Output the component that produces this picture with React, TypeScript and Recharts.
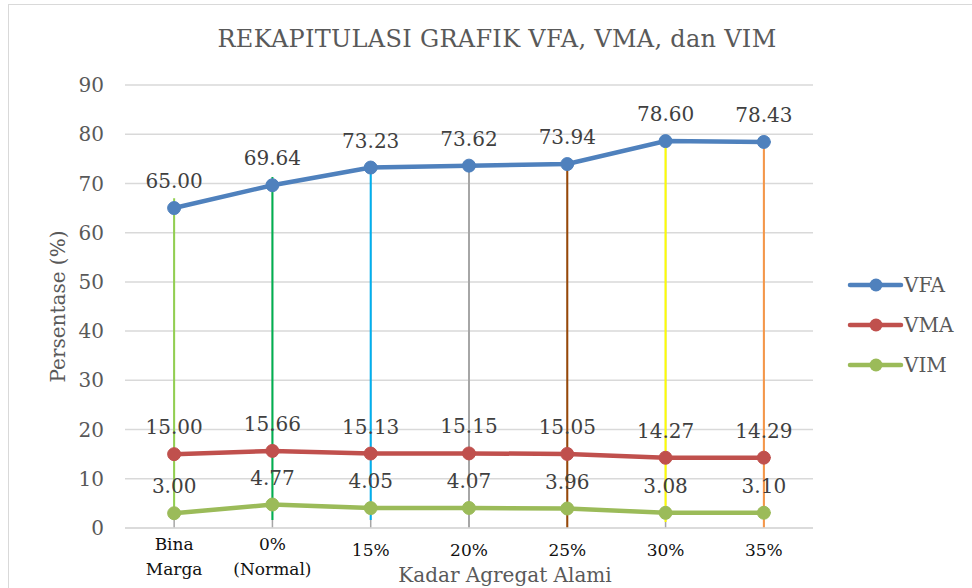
import React from 'react';
import {
  LineChart,
  Line,
  XAxis,
  YAxis,
  CartesianGrid,
  Legend,
  LabelList,
  ReferenceLine,
} from 'recharts';

// ---- data ----
const categories = ['Bina\nMarga', '0%\n(Normal)', '15%', '20%', '25%', '30%', '35%'];
const vfa = [65.0, 69.64, 73.23, 73.62, 73.94, 78.6, 78.43];
const vma = [15.0, 15.66, 15.13, 15.15, 15.05, 14.27, 14.29];
const vim = [3.0, 4.77, 4.05, 4.07, 3.96, 3.08, 3.1];
const yTicks = [0, 10, 20, 30, 40, 50, 60, 70, 80, 90];

// hand-drawn vertical guide lines (value range in %)
const guideTop = [67.0, 71.3, 74.3, 73.7, 75.1, 78.8, 78.8];
const guideBottom = [3.0, 1.6, 1.6, 0, 0, 1.2, 0];
const guideColors = ['#92d050', '#00b050', '#00b0f0', '#a6a6a6', '#984807', '#ffff00', '#f79646'];

const seriesNames = ['VFA', 'VMA', 'VIM'];
const seriesColors = ['#4f81bd', '#c0504d', '#9bbb59'];

const data = categories.map((c, i) => ({ cat: c, VFA: vfa[i], VMA: vma[i], VIM: vim[i] }));

const FONT = '"DejaVu Serif", "Liberation Serif", serif';
const W = 972;
const H = 588;
const LEGEND_W = 120;

const XTick = (props: any) => {
  const { x, y, payload } = props;
  const lines = String(payload.value).split('\n');
  const starts = lines.length === 1 ? [14] : [8, 33];
  return (
    <g>
      {lines.map((l, i) => (
        <text
          key={i}
          x={x}
          y={y + starts[i]}
          textAnchor="middle"
          dominantBaseline="central"
          fontFamily={FONT}
          fontSize={17}
          fill="#111"
        >
          {l}
        </text>
      ))}
    </g>
  );
};

const renderLegend = () => (
  <div style={{ fontFamily: FONT }}>
    {seriesNames.map((n, i) => (
      <div key={n} style={{ display: 'flex', alignItems: 'center', height: 40 }}>
        <svg width={58} height={20}>
          <line x1={4} y1={10} x2={55} y2={10} stroke={seriesColors[i]} strokeWidth={4.5} strokeLinecap="round" />
          <circle cx={30} cy={10} r={6.5} fill={seriesColors[i]} />
        </svg>
        <span style={{ fontSize: 20, color: '#595959', marginLeft: 0 }}>{n}</span>
      </div>
    ))}
  </div>
);

const YLabel = (props: any) => {
  const { viewBox } = props;
  const cx = 58;
  const cy = viewBox.y + viewBox.height / 2;
  return (
    <text
      x={cx}
      y={cy}
      transform={`rotate(-90 ${cx} ${cy})`}
      textAnchor="middle"
      dominantBaseline="central"
      fontFamily={FONT}
      fontSize={20}
      fill="#595959"
    >
      Persentase (%)
    </text>
  );
};

const XLabel = () => (
  <text x={505} y={575} textAnchor="middle" dominantBaseline="central" fontFamily={FONT} fontSize={20} fill="#595959">
    Kadar Agregat Alami
  </text>
);

const fmt = (v: any) => Number(v).toFixed(2);

export default function App() {
  return (
    <div style={{ position: 'fixed', left: 0, top: 0, width: W, height: H, overflow: 'hidden', background: '#fff' }}>
      <div
        style={{
          position: 'absolute',
          left: 8,
          top: 4,
          width: W + 20,
          height: H + 20,
          borderLeft: '1.5px solid #d9d9d9',
          borderTop: '1.5px solid #d9d9d9',
        }}
      />
      <div
        style={{
          position: 'absolute',
          left: 0,
          width: 994,
          top: 25,
          textAlign: 'center',
          fontFamily: FONT,
          fontSize: 24,
          letterSpacing: 0.3,
          color: '#595959',
          whiteSpace: 'nowrap',
        }}
      >
        REKAPITULASI GRAFIK VFA, VMA, dan VIM
      </div>
      <div style={{ position: 'absolute', left: 0, top: 0 }}>
        <LineChart width={W} height={H} data={data} margin={{ top: 85, right: 159 - LEGEND_W, bottom: 0, left: 0 }}>
          <CartesianGrid vertical={false} stroke="#d9d9d9" strokeWidth={1.5} />
          <XAxis
            dataKey="cat"
            scale="band"
            height={60}
            axisLine={{ stroke: '#d9d9d9', strokeWidth: 1.5 }}
            tickLine={false}
            tick={<XTick />}
            interval={0}
            label={<XLabel />}
          />
          <YAxis
            width={125}
            domain={[0, 90]}
            ticks={yTicks}
            axisLine={false}
            tickLine={false}
            tickSize={0}
            tickMargin={21}
            tick={{ fontFamily: FONT, fontSize: 20, fill: '#595959' }}
            label={<YLabel />}
          />
          {categories.map((c, i) => (
            <ReferenceLine
              key={'drop' + i}
              segment={[
                { x: c, y: 0 },
                { x: c, y: vfa[i] },
              ]}
              stroke="#a6a6a6"
              strokeWidth={1.5}
            />
          ))}
          {seriesNames.map((n, i) => (
            <Line
              key={n}
              dataKey={n}
              stroke={seriesColors[i]}
              strokeWidth={4.5}
              strokeLinecap="round"
              dot={{ r: 6.5, fill: seriesColors[i], stroke: seriesColors[i], strokeWidth: 1 }}
              activeDot={false}
              isAnimationActive={false}
            >
              <LabelList
                dataKey={n}
                position="top"
                offset={20}
                formatter={fmt}
                style={{ fontFamily: FONT, fontSize: 20, fill: '#404040' }}
              />
            </Line>
          ))}
          {categories.map((c, i) => (
            <ReferenceLine
              key={'guide' + i}
              segment={[
                { x: c, y: guideBottom[i] },
                { x: c, y: guideTop[i] },
              ]}
              stroke={guideColors[i]}
              strokeWidth={2}
            />
          ))}
          <Legend
            layout="vertical"
            align="right"
            verticalAlign="top"
            width={LEGEND_W}
            wrapperStyle={{ left: 846, top: 265, width: LEGEND_W }}
            content={renderLegend}
          />
        </LineChart>
      </div>
    </div>
  );
}
